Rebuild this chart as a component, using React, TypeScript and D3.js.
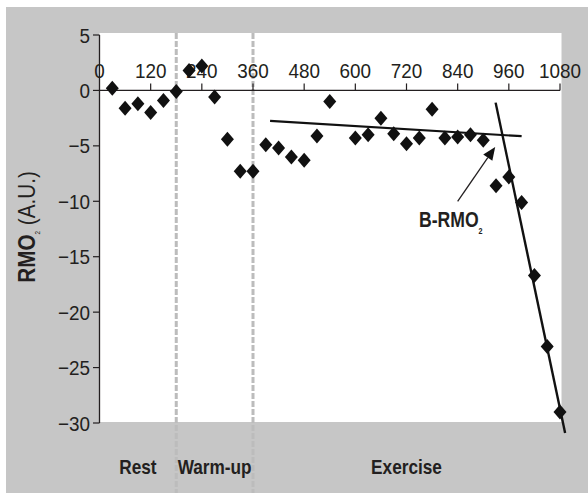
import React from "react";
import * as d3 from "d3";

const times = [30, 60, 90, 120, 150, 180, 210, 240, 270, 300, 330, 360, 390, 420, 450, 480, 510, 540, 600, 630, 660, 690, 720, 750, 780, 810, 840, 870, 900, 930, 960, 990, 1020, 1050, 1080];
const values = [0.2, -1.6, -1.2, -2.0, -0.9, -0.1, 1.8, 2.2, -0.6, -4.4, -7.3, -7.3, -4.9, -5.2, -6.0, -6.3, -4.1, -1.0, -4.3, -4.0, -2.5, -3.9, -4.8, -4.3, -1.7, -4.3, -4.2, -4.0, -4.5, -8.6, -7.8, -10.1, -16.7, -23.1, -29.0];

const xTicks = [0, 120, 240, 360, 480, 600, 720, 840, 960, 1080];
const yTicks = [5, 0, -5, -10, -15, -20, -25, -30];

const phaseBounds = [180, 360];
const phaseNames = ["Rest", "Warm-up", "Exercise"];
const phaseStarts = [0, 180, 360];
const phaseEnds = [180, 360, 1080];

// fitted lines (time, value)
const plateauFit = [[400, -2.75], [990, -4.13]];
const slopeFit = [[929, -1.1], [1092, -30.9]];
// annotation arrow (tail -> tip)
const arrowPts = [[840, -10], [928, -5.1]];
const annotation = "B-RMO";

const W = 588, H = 493;
const FONT = "'Liberation Sans', Arial, sans-serif";

function T(props: { x: number; y: number; anchor?: string; size?: number; weight?: string; rot?: number; sx?: number; children: any }) {
  const { x, y, anchor = "start", size = 20, weight = "normal", rot = 0, children } = props;
  const sx = props.sx ?? (weight === "bold" ? 0.82 : 0.9);
  return (
    <text
      transform={`translate(${x},${y}) rotate(${rot}) scale(${sx},1)`}
      textAnchor={anchor}
      fontSize={size}
      fontWeight={weight}
      fill="#231f20"
    >
      {children}
    </text>
  );
}

export default function App() {
  const x = d3.scaleLinear().domain([0, 1080]).range([99.5, 560]);
  const y = d3.scaleLinear().domain([5, -30]).range([35, 423]);
  const line = d3.line<number[]>().x((d) => x(d[0])).y((d) => y(d[1]));

  const diamond = "M0,-7.5L6.5,0L0,7.5L-6.5,0Z";

  const ax0 = x(arrowPts[0][0]), ay0 = y(arrowPts[0][1]);
  const ax1 = x(arrowPts[1][0]), ay1 = y(arrowPts[1][1]);
  const ang = Math.atan2(ay1 - ay0, ax1 - ax0);
  const hl = 13, hw = 5.5;
  const bx = ax1 - hl * Math.cos(ang), by = ay1 - hl * Math.sin(ang);
  const head = `M${ax1},${ay1}L${bx - hw * Math.sin(ang)},${by + hw * Math.cos(ang)}L${bx + hw * Math.sin(ang)},${by - hw * Math.cos(ang)}Z`;

  const fmt = (v: number) => (v < 0 ? "\u2212" + Math.abs(v) : String(v));

  return (
    <svg width={W} height={H} style={{ position: "absolute", left: 0, top: 0 }} fontFamily={FONT}>
      <rect x={6} y={7} width={W - 6} height={H - 7} fill="#c6c6c6" />
      <rect x={99.5} y={33} width={462} height={389} fill="#ffffff" />

      {phaseBounds.map((b) => (
        <line key={b} x1={x(b)} x2={x(b)} y1={33} y2={H} stroke="#bcbcbc" strokeWidth={3} strokeDasharray="6,2" />
      ))}

      <line x1={99.5} x2={99.5} y1={y(5)} y2={y(-30)} stroke="#231f20" strokeWidth={1.3} />
      {yTicks.map((t) => (
        <g key={t}>
          <line x1={93} x2={99.5} y1={y(t)} y2={y(t)} stroke="#231f20" strokeWidth={1.2} />
          <T x={90} y={y(t) + 7.5} anchor="end" size={21}>{fmt(t)}</T>
        </g>
      ))}

      <line x1={x(0)} x2={x(1080)} y1={y(0)} y2={y(0)} stroke="#231f20" strokeWidth={1.3} />
      {xTicks.map((t) => (
        <g key={t}>
          {t > 0 && <line x1={x(t)} x2={x(t)} y1={y(0) - 7} y2={y(0)} stroke="#231f20" strokeWidth={1.2} />}
          <T x={x(t)} y={78} anchor="middle" size={21}>{t}</T>
        </g>
      ))}

      <path d={line(plateauFit) || ""} stroke="#111" strokeWidth={2.2} fill="none" />
      <path d={line(slopeFit) || ""} stroke="#111" strokeWidth={2.4} fill="none" />

      {times.map((t, i) => (
        <path key={t} d={diamond} transform={`translate(${x(t)},${y(values[i])})`} fill="#111" />
      ))}

      <line x1={ax0} y1={ay0} x2={bx} y2={by} stroke="#231f20" strokeWidth={1.3} />
      <path d={head} fill="#111" />
      <T x={419} y={227} size={22} weight="bold" sx={0.8}>
        {annotation}
        <tspan fontSize={9} dy={7}>2</tspan>
      </T>

      <T x={35} y={227} rot={-90} anchor="middle" size={23} sx={0.9}>
        <tspan fontWeight="bold">RMO</tspan>
        <tspan fontSize={7} dy={5}>2</tspan>
        <tspan dy={-5}> (A.U.)</tspan>
      </T>

      {phaseNames.map((n, i) => (
        <T key={n} x={x((phaseStarts[i] + phaseEnds[i]) / 2)} y={474} anchor="middle" size={21} weight="bold">{n}</T>
      ))}
    </svg>
  );
}
